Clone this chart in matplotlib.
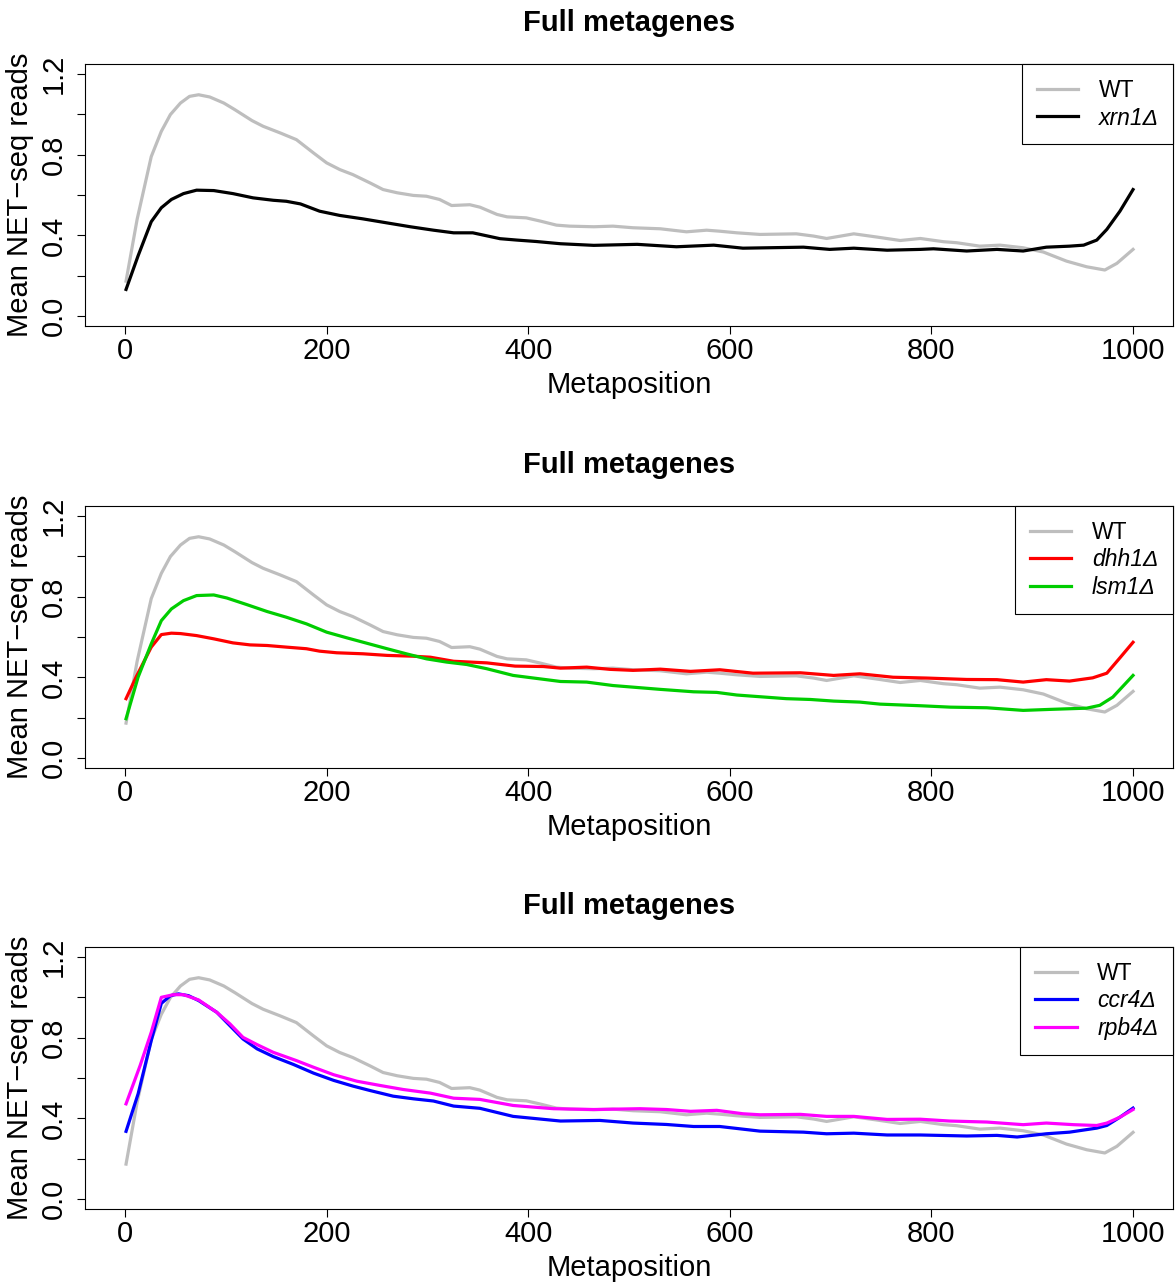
import numpy as np
import matplotlib
matplotlib.use("Agg")
import matplotlib.pyplot as plt

plt.rcParams["font.family"] = ["Liberation Sans", "DejaVu Sans"]

# WT metagene (same curve in all three panels)
wt_pos = [1, 12, 26, 36, 45, 55, 64, 73, 84, 98, 109, 126, 137, 154, 170, 187, 200, 213, 226, 243,
          256, 270, 286, 299, 312, 324, 342, 352, 369, 379, 398, 412, 428, 441, 465, 484, 504, 531,
          557, 577, 590, 607, 630, 666, 683, 696, 723, 746, 769, 789, 812, 825, 848, 868, 891, 911,
          934, 954, 972, 984, 1000]
wt_val = [0.174, 0.48, 0.79, 0.915, 0.998, 1.055, 1.088, 1.096, 1.085, 1.055, 1.022, 0.968, 0.94,
          0.907, 0.874, 0.808, 0.759, 0.726, 0.701, 0.66, 0.627, 0.611, 0.598, 0.594, 0.578, 0.548,
          0.552, 0.54, 0.504, 0.492, 0.487, 0.471, 0.451, 0.446, 0.443, 0.446, 0.438, 0.433, 0.418,
          0.426, 0.421, 0.413, 0.405, 0.408, 0.397, 0.385, 0.408, 0.392, 0.375, 0.385, 0.369, 0.364,
          0.347, 0.352, 0.339, 0.318, 0.273, 0.245, 0.229, 0.262, 0.331]

xrn1_pos = [1, 13, 26, 36, 46, 58, 71, 88, 107, 127, 147, 160, 174, 193, 213, 236, 260, 283, 306,
            326, 345, 372, 389, 408, 432, 465, 508, 547, 584, 613, 673, 699, 723, 756, 789, 802,
            835, 865, 891, 914, 937, 951, 964, 974, 987, 1000]
xrn1_val = [0.133, 0.30, 0.468, 0.537, 0.578, 0.607, 0.624, 0.622, 0.607, 0.586, 0.574, 0.569,
            0.556, 0.52, 0.499, 0.482, 0.462, 0.443, 0.426, 0.413, 0.413, 0.384, 0.377, 0.37, 0.359,
            0.351, 0.356, 0.344, 0.352, 0.337, 0.342, 0.331, 0.337, 0.327, 0.331, 0.334, 0.323,
            0.331, 0.323, 0.342, 0.347, 0.352, 0.377, 0.43, 0.52, 0.627]

dhh1_pos = [1, 11, 26, 36, 46, 55, 71, 88, 107, 124, 141, 160, 180, 193, 210, 236, 260, 286, 303,
            326, 359, 387, 415, 432, 458, 481, 504, 531, 561, 590, 623, 670, 703, 729, 762, 795,
            835, 865, 891, 914, 937, 960, 974, 987, 1000]
dhh1_val = [0.295, 0.402, 0.55, 0.612, 0.619, 0.617, 0.607, 0.591, 0.571, 0.561, 0.558, 0.55,
            0.542, 0.53, 0.522, 0.517, 0.509, 0.505, 0.5, 0.48, 0.472, 0.456, 0.454, 0.446, 0.451,
            0.44, 0.435, 0.441, 0.43, 0.438, 0.421, 0.423, 0.41, 0.418, 0.401, 0.397, 0.39, 0.389,
            0.377, 0.389, 0.382, 0.398, 0.421, 0.497, 0.574]

lsm1_pos = [1, 13, 26, 36, 46, 58, 71, 88, 101, 121, 141, 160, 180, 200, 220, 240, 260, 279, 299,
            319, 339, 359, 385, 432, 458, 484, 531, 564, 587, 607, 656, 680, 703, 729, 749, 789,
            819, 855, 891, 918, 954, 967, 980, 1000]
lsm1_val = [0.196, 0.402, 0.566, 0.681, 0.739, 0.78, 0.805, 0.808, 0.793, 0.76, 0.726, 0.698,
            0.665, 0.624, 0.596, 0.569, 0.542, 0.517, 0.492, 0.476, 0.464, 0.443, 0.41, 0.38, 0.377,
            0.36, 0.341, 0.329, 0.326, 0.313, 0.295, 0.291, 0.283, 0.278, 0.268, 0.26, 0.253, 0.25,
            0.237, 0.242, 0.248, 0.262, 0.303, 0.41]

ccr4_pos = [1, 13, 26, 36, 45, 53, 63, 73, 91, 104, 117, 131, 147, 167, 187, 207, 226, 243, 266,
            286, 306, 326, 352, 385, 432, 471, 504, 537, 564, 590, 630, 673, 696, 723, 756, 789,
            835, 865, 885, 914, 937, 964, 974, 987, 1000]
ccr4_val = [0.336, 0.522, 0.785, 0.969, 1.007, 1.016, 1.007, 0.983, 0.925, 0.859, 0.793, 0.744,
            0.706, 0.667, 0.624, 0.588, 0.56, 0.538, 0.51, 0.497, 0.486, 0.461, 0.45, 0.41, 0.387,
            0.39, 0.377, 0.37, 0.36, 0.36, 0.337, 0.332, 0.324, 0.327, 0.318, 0.318, 0.313, 0.316,
            0.308, 0.324, 0.332, 0.352, 0.365, 0.406, 0.451]

rpb4_pos = [1, 15, 26, 36, 48, 58, 73, 91, 104, 117, 131, 147, 170, 187, 207, 230, 253, 276, 303,
            326, 352, 385, 425, 465, 511, 537, 561, 587, 613, 630, 670, 696, 723, 756, 789, 818,
            855, 891, 914, 941, 964, 974, 987, 1000]
rpb4_val = [0.472, 0.662, 0.826, 0.999, 1.012, 1.012, 0.986, 0.925, 0.868, 0.801, 0.765, 0.727,
            0.686, 0.653, 0.616, 0.584, 0.563, 0.543, 0.525, 0.5, 0.494, 0.464, 0.448, 0.444, 0.448,
            0.444, 0.435, 0.44, 0.423, 0.418, 0.42, 0.41, 0.41, 0.395, 0.396, 0.387, 0.382, 0.369,
            0.377, 0.369, 0.365, 0.377, 0.406, 0.444]

panels = [
    [("WT", wt_pos, wt_val, "#BEBEBE"), ("xrn1\u0394", xrn1_pos, xrn1_val, "black")],
    [("WT", wt_pos, wt_val, "#BEBEBE"), ("dhh1\u0394", dhh1_pos, dhh1_val, "#FF0000"),
     ("lsm1\u0394", lsm1_pos, lsm1_val, "#00CD00")],
    [("WT", wt_pos, wt_val, "#BEBEBE"), ("ccr4\u0394", ccr4_pos, ccr4_val, "#0000FF"),
     ("rpb4\u0394", rpb4_pos, rpb4_val, "#FF00FF")],
]

fig = plt.figure(figsize=(11.75, 12.83), dpi=100)
bottoms = [0.7459, 0.4014, 0.0577]

for series, bottom in zip(panels, bottoms):
    ax = fig.add_axes([0.0721, bottom, 0.9265, 0.2042])
    for name, pos, val, col in series:
        ax.plot(pos, val, color=col, linewidth=2.3, label=name)
    ax.set_xlim(-40, 1040)
    ax.set_ylim(-0.048, 1.248)
    ax.set_xticks([0, 200, 400, 600, 800, 1000])
    ax.set_yticks([0.0, 0.2, 0.4, 0.6, 0.8, 1.0, 1.2])
    ax.set_yticklabels(["0.0", "", "0.4", "", "0.8", "", "1.2"], rotation=90, va="center")
    ax.tick_params(labelsize=21, length=6, width=0.8, pad=2)
    ax.tick_params(axis="y", pad=6)
    for sp in ax.spines.values():
        sp.set_linewidth(0.8)
    ax.set_title("Full metagenes", fontsize=21, fontweight="bold", pad=24)
    ax.set_xlabel("Metaposition", fontsize=21, labelpad=4)
    ax.set_ylabel("Mean NET\u2212seq reads", fontsize=21, labelpad=4)
    leg = ax.legend(loc="upper right", borderaxespad=0, fancybox=False, framealpha=1,
                    edgecolor="black", fontsize=16.5, handlelength=1.8, handletextpad=0.9,
                    labelspacing=0.2, borderpad=0.65)
    leg.get_frame().set_linewidth(0.8)
    for t in leg.get_texts()[1:]:
        t.set_fontstyle("italic")

fig.savefig("out.png", dpi=100)
